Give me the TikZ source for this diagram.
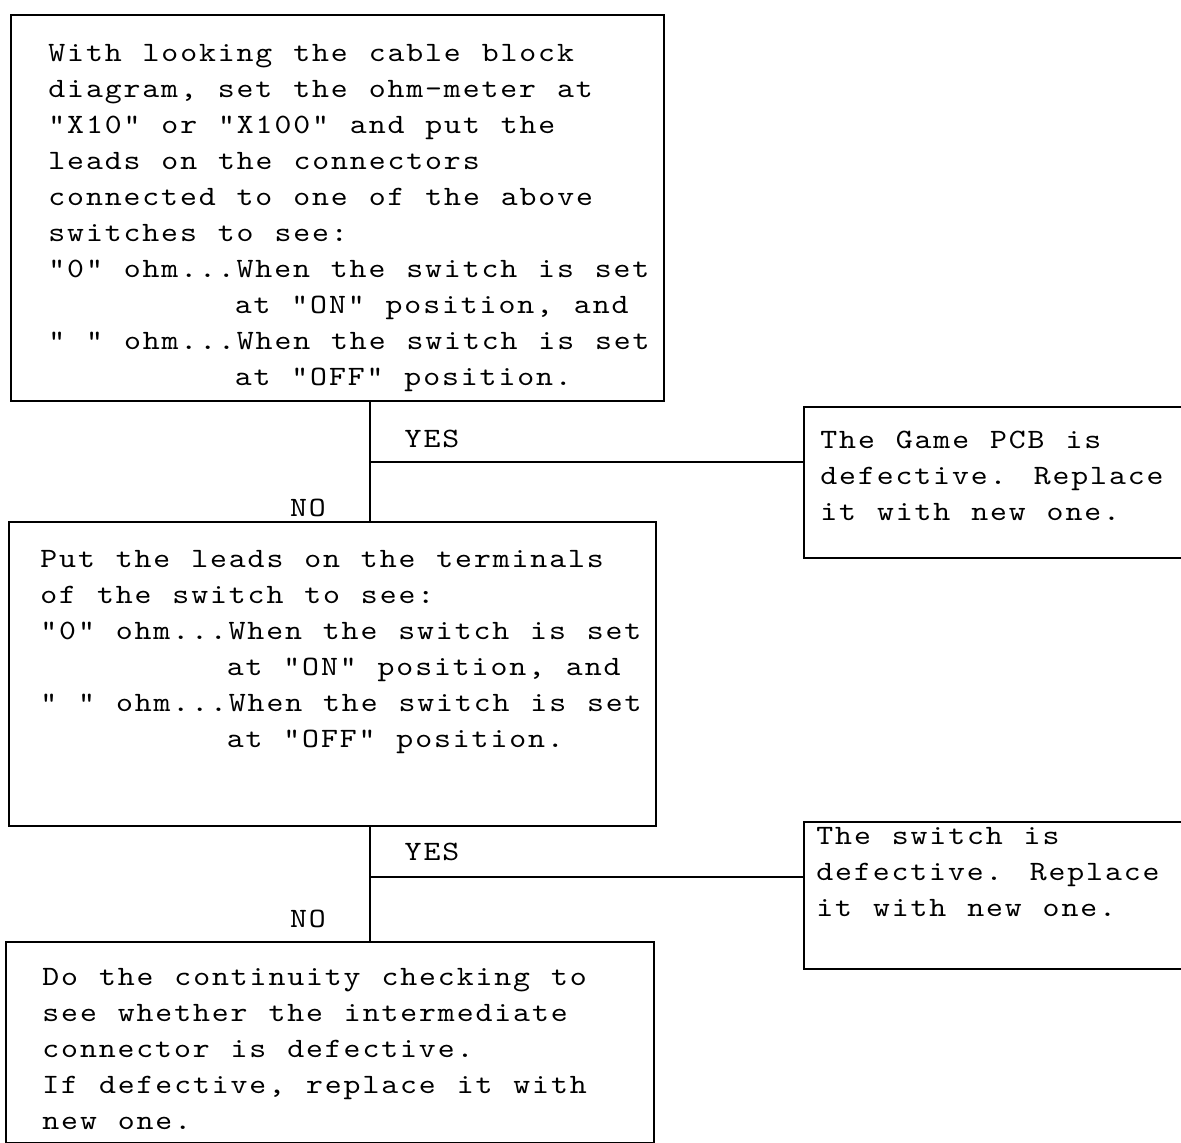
\documentclass[tikz,border=0pt]{standalone}
\usepackage{fontspec}
\usepackage{tikz}
\newfontfamily\boxfont{lmmono10-regular.otf}[FakeStretch=1.15, LetterSpace=6.8, WordSpace=1.112]

\begin{document}
\begin{tikzpicture}[x=0.5pt, y=-0.5pt,
        box/.style={draw, line width=1pt, inner sep=0pt, anchor=north west},
        txt/.style={anchor=north west, inner sep=0pt, align=left,
            font=\boxfont\fontsize{14}{18}\selectfont},
        wire/.style={line width=1pt}]
            \useasboundingbox (0,0) rectangle (1181,1142);
            \clip (0,0) rectangle (1181,1142);
            % boxes
            \node[box, minimum width=326.5pt, minimum height=193pt] (check1) at (10,14) {};
            \node[box, minimum width=323.5pt, minimum height=152pt] (check2) at (8,521) {};
            \node[box, minimum width=324pt, minimum height=100.5pt] (cont) at (5,941) {};
            \node[box, minimum width=198.5pt, minimum height=75.5pt] (pcb) at (803,406) {};
            \node[box, minimum width=198.5pt, minimum height=73.5pt] (sw) at (803,821) {};
            % texts
            \node[txt] (check1 text) at (48,37) {\rule{0pt}{12pt}With looking the cable block\\
                diagram, set the ohm-meter at\\
                "X10" or "X100" and put the\\
                leads on the connectors\\
                connected to one of the above\\
                switches to see:\\
                "0" ohm...When the switch is set\\
                \hphantom{"0" ohm...}at "ON" position, and\\
                " " ohm...When the switch is set\\
                \hphantom{"0" ohm...}at "OFF" position.};
            \node[txt] (check2 text) at (40,543) {\rule{0pt}{12pt}Put the leads on the terminals\\
                of the switch to see:\\
                "0" ohm...When the switch is set\\
                \hphantom{"0" ohm...}at "ON" position, and\\
                " " ohm...When the switch is set\\
                \hphantom{"0" ohm...}at "OFF" position.};
            \node[txt] (cont text) at (42,961) {\rule{0pt}{12pt}Do the continuity checking to\\
                see whether the intermediate\\
                connector is defective.\\
                If defective, replace it with\\
                new one.};
            \node[txt] (pcb text) at (820,424) {\rule{0pt}{12pt}The Game PCB is\\
                defective. Replace\\
                it with new one.};
            \node[txt] (sw text) at (816,820) {\rule{0pt}{12pt}The switch is\\
                defective. Replace\\
                it with new one.};
            % branches
            \coordinate (yes1) at (370,462);
            \coordinate (yes2) at (370,877);
            \draw[wire] (check1.south -| yes1) -- (check2.north -| yes1);
            \draw[wire] (yes1) -- (yes1 -| pcb.west);
            \draw[wire] (check2.south -| yes2) -- (cont.north -| yes2);
            \draw[wire] (yes2) -- (yes2 -| sw.west);
            \node[txt, anchor=base] (yes1 label) at (432,447) {YES};
            \node[txt, anchor=base] (no1 label) at (308,516) {NO};
            \node[txt, anchor=base] (yes2 label) at (432,860) {YES};
            \node[txt, anchor=base] (no2 label) at (308,927) {NO};
        \end{tikzpicture}
\end{document}
